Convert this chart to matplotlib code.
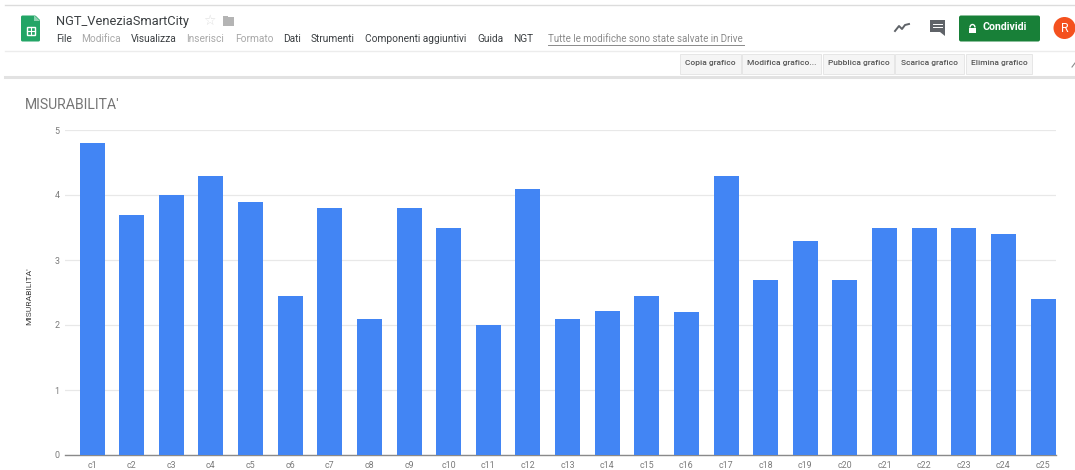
import matplotlib
matplotlib.use("Agg")
import matplotlib.pyplot as plt
from matplotlib.patches import FancyBboxPatch, Rectangle, Circle, Polygon, Arc

categorie = ["c" + str(i) for i in range(1, 26)]
misurabilita = [4.8, 3.7, 4.0, 4.3, 3.9, 2.45, 3.8, 2.1, 3.8, 3.5, 2.0, 4.1, 2.1,
                2.22, 2.45, 2.2, 4.3, 2.7, 3.3, 2.7, 3.5, 3.5, 3.5, 3.4, 2.4]
tick_y = [0, 1, 2, 3, 4, 5]

menu = [("File", 56, "#3c4043"), ("Modifica", 81.5, "#a8a8a8"), ("Visualizza", 130.5, "#3c4043"),
        ("Inserisci", 186.5, "#a8a8a8"), ("Formato", 235, "#a8a8a8"), ("Dati", 283, "#3c4043"),
        ("Strumenti", 310.5, "#3c4043"), ("Componenti aggiuntivi", 365, "#3c4043"),
        ("Guida", 477, "#3c4043"), ("NGT", 513, "#3c4043")]
bottoni = [("Copia grafico", 680, 61), ("Modifica grafico...", 742, 79), ("Pubblica grafico", 823, 71),
           ("Scarica grafico", 895, 69), ("Elimina grafico", 966, 66)]

plt.rcParams["font.family"] = ["Roboto", "DejaVu Sans"]

W, H = 1075, 470
fig = plt.figure(figsize=(W / 100, H / 100), dpi=100, facecolor="white")

# barra di Sheets disegnata in coordinate pixel
ui = fig.add_axes([0, 0, 1, 1], zorder=1)
ui.set_xlim(0, W)
ui.set_ylim(H, 0)
ui.axis("off")

ui.plot([5, W], [4.5, 4.5], color="#dcdcdc", lw=1)
ui.plot([5, W], [50.5, 50.5], color="#ececec", lw=1)
ui.plot([5, W], [76.5, 76.5], color="#e2e2e2", lw=2.2)

# icona del foglio
ui.add_patch(FancyBboxPatch((21, 15.5), 19, 26, boxstyle="round,pad=0,rounding_size=1.5", fc="#23a566", ec="none"))
ui.add_patch(Polygon([[34, 14], [41, 14], [41, 21]], fc="white", ec="none"))
ui.add_patch(Polygon([[34, 15], [40, 21], [34, 21]], fc="#8ed1b1", ec="none"))
ui.add_patch(Rectangle((26.5, 27), 8, 8, fc="none", ec="white", lw=1))
ui.plot([30.5, 30.5], [27, 35], color="white", lw=0.8)
ui.plot([26.5, 34.5], [31, 31], color="white", lw=0.8)

ui.text(56, 21, "NGT_VeneziaSmartCity", fontsize=9.3, color="#3c4043", va="center", ha="left")
ui.text(209, 21, "☆", fontsize=10, color="#dedede", va="center", ha="center", family=["DejaVu Sans"])
ui.add_patch(Rectangle((223, 17), 11, 8.5, fc="#b4b4b4", ec="none"))
ui.add_patch(Rectangle((223, 15.5), 5, 3, fc="#b4b4b4", ec="none"))

for testo, x, colore in menu:
    ui.text(x, 39.5, testo, fontsize=7.25, color=colore, va="center", ha="left")
ui.text(547.5, 39.5, "Tutte le modifiche sono state salvate in Drive", fontsize=7.05, color="#8a8a8a",
        va="center", ha="left")
ui.plot([548, 744], [45, 45], color="#8a8a8a", lw=0.7)

# icone e pulsante in alto a destra
ui.plot([895, 899, 902, 905, 909], [31, 26, 29, 25, 24], color="#5f6368", lw=1.4)
ui.add_patch(Rectangle((930, 20), 15, 12, fc="#5f6368", ec="none"))
ui.add_patch(Polygon([[940, 32], [945, 32], [945, 36]], fc="#5f6368", ec="none"))
ui.plot([933, 942], [23.5, 23.5], color="white", lw=0.7)
ui.plot([933, 942], [26.5, 26.5], color="white", lw=0.7)
ui.add_patch(FancyBboxPatch((959, 15.5), 81, 26, boxstyle="round,pad=0,rounding_size=2", fc="#188038", ec="none"))
ui.add_patch(Rectangle((969, 27.5), 7, 5, fc="white", ec="none"))
ui.add_patch(Arc((972.5, 27.5), 5, 6, theta1=180, theta2=360, ec="white", lw=1))
ui.text(1005, 27.5, "Condividi", fontsize=7.6, color="white", va="center", ha="center", weight="bold")
ui.add_patch(Circle((1064.5, 28), 11, fc="#f4511e", ec="none"))
ui.text(1064.5, 28, "R", fontsize=9, color="white", va="center", ha="center")

for testo, x, larg in bottoni:
    ui.add_patch(Rectangle((x, 53.5), larg, 20.5, fc="#f5f5f5", ec="#e6e6e6", lw=0.7))
    ui.text(x + larg / 2, 63, testo, fontsize=6, color="#555555", va="center", ha="center", weight="medium")
ui.plot([1072, 1075], [67, 63], color="#8a8a8a", lw=0.8)

ui.text(25, 105, "MISURABILITA'", fontsize=10.1, color="#757575", va="center", ha="left")
ui.text(29, 296, "MISURABILITA'", fontsize=6.1, color="#444444", va="center", ha="center", rotation=90)

# grafico a barre
left, right, y0, y5 = 65, 1056, 455, 130
ax = fig.add_axes([left / W, 1 - y0 / H, (right - left) / W, (y0 - y5) / H], zorder=2)
ax.patch.set_alpha(0)
passo = (1043 - 92) / 24
x = list(range(len(categorie)))
ax.bar(x, misurabilita, width=25 / passo, color="#4285f4", zorder=3)
ax.set_xlim((left - 92) / passo, (right - 92) / passo)
ax.set_ylim(0, 5)
ax.set_xticks(x)
ax.set_xticklabels(categorie, fontsize=6.4, color="#7a7a7a")
ax.set_yticks(tick_y)
ax.set_yticklabels(tick_y, fontsize=6.4, color="#7a7a7a")
ax.tick_params(length=0, pad=4)
ax.grid(axis="y", color="#e8e8e8", lw=0.9, zorder=0)
ax.set_axisbelow(True)
for lato in ["top", "right", "left"]:
    ax.spines[lato].set_visible(False)
ax.spines["bottom"].set_color("#8a8a8a")
ax.spines["bottom"].set_linewidth(1)

fig.savefig("out.png", dpi=100)
